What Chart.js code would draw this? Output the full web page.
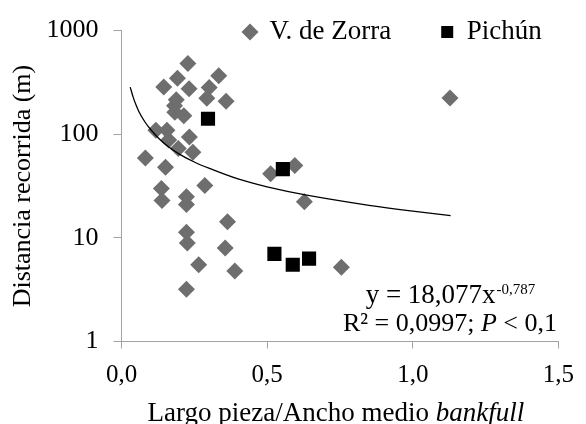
<!DOCTYPE html>
<html>
<head>
<meta charset="utf-8">
<script src="https://cdn.jsdelivr.net/npm/chart.js@4.4.1/dist/chart.umd.min.js"></script>
<style>
  html, body { margin: 0; padding: 0; background: #fff; }
  #wrap { width: 586px; height: 424px; }
</style>
</head>
<body>
<div id="wrap"><canvas id="chart" width="586" height="424"></canvas></div>
<script>
// V. de Zorra (gray diamonds)
const zorraX = [0.228, 0.334, 0.192, 0.145, 0.232, 0.301, 0.293, 0.359, 0.188, 0.182,
  0.183, 0.214, 0.118, 0.156, 0.233, 0.162, 0.195, 0.245, 0.082, 0.151,
  0.286, 0.137, 0.139, 0.223, 0.223, 0.364, 0.223, 0.226, 0.356, 0.265,
  0.389, 0.223, 0.512, 0.595, 0.628, 0.755, 1.128];
const zorraY = [481, 366, 347, 285, 275, 283, 222, 208, 215, 188,
  163, 151, 109, 109, 94, 88, 73, 67, 59, 48,
  32, 30, 23, 25, 21, 14.3, 11.3, 8.9, 8.0, 5.5,
  4.8, 3.2, 41.5, 50, 22.3, 5.2, 224];
// Pichún (black squares)
const pichunX = [0.297, 0.554, 0.525, 0.588, 0.644];
const pichunY = [141, 46, 7.0, 5.5, 6.3];
// power trend line
const trendX = [0.03, 0.04, 0.05, 0.06, 0.08, 0.10, 0.13, 0.16, 0.20, 0.25, 0.30, 0.40, 0.50, 0.60, 0.70, 0.85, 1.00, 1.13];
const trendY = [285, 228, 191, 165, 132, 111, 90, 76, 64, 54, 47, 37, 31, 27, 24, 20.6, 18.1, 16.4];

const xTicks = [0, 0.5, 1.0, 1.5];
const xTickLabels = ["0,0", "0,5", "1,0", "1,5"];
const yTicks = [1, 10, 100, 1000];
const yTickLabels = ["1", "10", "100", "1000"];

const seriesNames = ["V. de Zorra", "Pichún"];
const yTitle = "Distancia recorrida (m)";
const xTitle = ["Largo pieza/Ancho medio ", "bankfull"];
const eqLine1 = ["y = 18,077x", "-0,787"];
const eqLine2 = ["R² = 0,0997; ", "P", " < 0,1"];

const serif = "'Liberation Serif', 'Times New Roman', serif";
const axisGray = "#a3a3a3";

function toPoints(xs, ys) {
  let pts = [];
  for (let i = 0; i < xs.length; i++) {
    pts.push({ x: xs[i], y: ys[i] });
  }
  return pts;
}

// legend sits inside the plot, so take it out of the layout
const legendPlace = {
  id: "legendPlace",
  beforeInit(chart) {
    const lg = chart.legend;
    const fit = lg.fit;
    lg.fit = function () {
      fit.call(this);
      this.height = 0;
    };
  },
  afterLayout(chart) {
    const lg = chart.legend;
    lg.left = 194;
    lg.right = 760;
    lg.width = 566;
    lg.top = -31.5;
    lg.bottom = 70;
    lg.height = 101.5;
  },
};

// x title with italic word, and the trend equation
const extraText = {
  id: "extraText",
  afterDraw(chart) {
    const ctx = chart.ctx;
    const area = chart.chartArea;
    ctx.save();
    ctx.fillStyle = "#000";
    ctx.textBaseline = "alphabetic";
    ctx.textAlign = "left";

    const normal = "26px " + serif;
    const italic = "italic 26px " + serif;
    const tNormal = "27px " + serif;
    const tItalic = "italic 27px " + serif;
    ctx.font = tNormal;
    const w1 = ctx.measureText(xTitle[0]).width;
    ctx.font = tItalic;
    const w2 = ctx.measureText(xTitle[1]).width;
    let x = (area.left + area.right) / 2 - (w1 + w2) / 2 - 4;
    const yb = chart.height - 3;
    ctx.font = tNormal;
    ctx.fillText(xTitle[0], x, yb);
    ctx.font = tItalic;
    ctx.fillText(xTitle[1], x + w1, yb);

    // equation line 1
    const sup = "15px " + serif;
    ctx.font = tNormal;
    const a1 = ctx.measureText(eqLine1[0]).width;
    ctx.font = sup;
    const a2 = ctx.measureText(eqLine1[1]).width;
    const cx = 450;
    x = cx - (a1 + a2) / 2;
    ctx.font = tNormal;
    ctx.fillText(eqLine1[0], x, 303);
    ctx.font = sup;
    ctx.fillText(eqLine1[1], x + a1 + 1, 294);

    // equation line 2
    ctx.font = normal;
    const b1 = ctx.measureText(eqLine2[0]).width;
    ctx.font = italic;
    const b2 = ctx.measureText(eqLine2[1]).width;
    ctx.font = normal;
    const b3 = ctx.measureText(eqLine2[2]).width;
    x = cx - (b1 + b2 + b3) / 2;
    ctx.fillText(eqLine2[0], x, 331);
    ctx.font = italic;
    ctx.fillText(eqLine2[1], x + b1, 331);
    ctx.font = normal;
    ctx.fillText(eqLine2[2], x + b1 + b2, 331);
    ctx.restore();
  },
};

const ctx = document.getElementById("chart").getContext("2d");
const myChart = new Chart(ctx, {
  type: "scatter",
  data: {
    datasets: [
      {
        label: "trend",
        type: "line",
        data: toPoints(trendX, trendY),
        showLine: true,
        borderColor: "#000",
        borderWidth: 1.3,
        pointRadius: 0,
        cubicInterpolationMode: "monotone",
        fill: false,
      },
      {
        label: seriesNames[1],
        data: toPoints(pichunX, pichunY),
        pointStyle: "rect",
        pointRadius: 10,
        backgroundColor: "#000",
        borderColor: "#000",
        borderWidth: 0,
      },
      {
        label: seriesNames[0],
        data: toPoints(zorraX, zorraY),
        pointStyle: "rectRot",
        pointRadius: 8.5,
        backgroundColor: "#6e6e6e",
        borderColor: "#6e6e6e",
        borderWidth: 0,
      },
    ],
  },
  options: {
    responsive: false,
    animation: false,
    events: [],
    layout: { padding: { top: 24, right: 15, left: 0, bottom: 0 } },
    plugins: {
      tooltip: { enabled: false },
      legend: {
        display: true,
        position: "top",
        align: "start",
        labels: {
          usePointStyle: true,
          boxWidth: 12,
          boxHeight: 12,
          padding: 50,
          color: "#000",
          font: { family: serif, size: 27 },
          filter: (item) => item.text !== "trend",
          sort: (a, b) => b.datasetIndex - a.datasetIndex,
        },
      },
    },
    scales: {
      x: {
        type: "linear",
        min: 0,
        max: 1.5,
        afterBuildTicks: (scale) => {
          scale.ticks = xTicks.map((v) => ({ value: v }));
        },
        afterFit: (scale) => {
          scale.height = 82.5;
        },
        ticks: {
          color: "#000",
          font: { family: serif, size: 25 },
          padding: 12,
          maxRotation: 0,
          callback: (v) => xTickLabels[xTicks.indexOf(v)],
        },
        grid: {
          drawOnChartArea: false,
          drawTicks: true,
          tickLength: 7,
          color: axisGray,
        },
        border: { display: true, color: axisGray, width: 1 },
      },
      y: {
        type: "logarithmic",
        min: 1,
        max: 1000,
        afterBuildTicks: (scale) => {
          scale.ticks = yTicks.map((v) => ({ value: v }));
        },
        afterFit: (scale) => {
          scale.width = 121.5;
        },
        ticks: {
          color: "#000",
          font: { family: serif, size: 26 },
          padding: 15,
          callback: (v) => yTickLabels[yTicks.indexOf(v)],
        },
        grid: {
          drawOnChartArea: false,
          drawTicks: true,
          tickLength: 8,
          color: axisGray,
        },
        border: { display: true, color: axisGray, width: 1 },
        title: {
          display: true,
          text: yTitle,
          color: "#000",
          font: { family: serif, size: 26 },
          padding: { top: 8, bottom: 0 },
        },
      },
    },
  },
  plugins: [legendPlace, extraText],
});
</script>
</body>
</html>
